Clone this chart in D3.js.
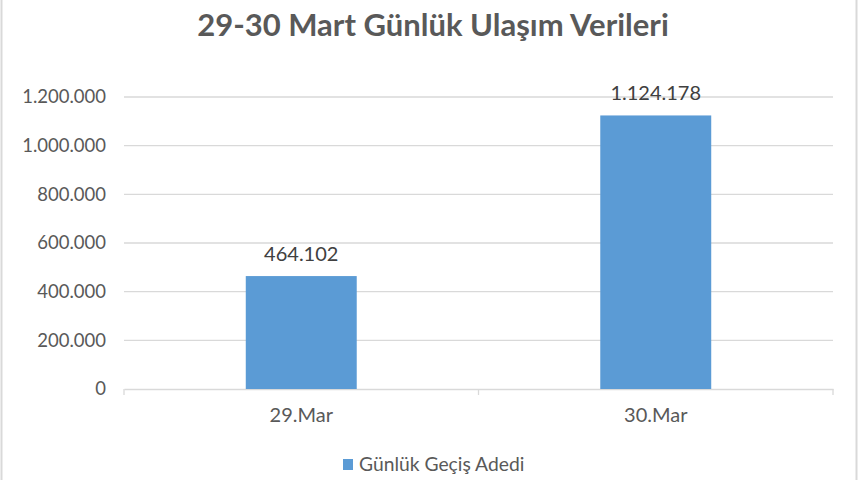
<!DOCTYPE html>
<html><head><meta charset="utf-8">
<script src="https://cdn.jsdelivr.net/npm/d3@7"></script>
<style>body{margin:0;background:#fff}svg{display:block}</style>
</head><body>
<svg id="c" width="860" height="480"></svg>
<script>
const categories = ["29.Mar", "30.Mar"];
const values = [464102, 1124178];
const yTicks = [0, 200000, 400000, 600000, 800000, 1000000, 1200000];
const seriesName = "Günlük Geçiş Adedi";
const title = "29-30 Mart Günlük Ulaşım Verileri";

const fmt = v => d3.format(",")(v).replace(/,/g, ".");
const svg = d3.select("#c");
const font = "Lato, 'Open Sans', sans-serif";

svg.append("rect").attr("x",1.5).attr("y",-2).attr("width",855).attr("height",490)
  .attr("fill","#fff").attr("stroke","#d9d9d9").attr("stroke-width",2);

const m = {l:124, r:833, t:97, b:389};
const x = d3.scaleBand().domain(categories).range([m.l, m.r]).paddingInner(0.687).paddingOuter(0.3435);
const y = d3.scaleLinear().domain([0, 1200000]).range([m.b, m.t]);

svg.append("text").attr("x",433).attr("y",36).attr("text-anchor","middle")
  .attr("font-family",font).attr("font-weight","bold").attr("font-size",31).attr("fill","#595959").text(title);

svg.append("g").selectAll("line").data(yTicks.filter(d=>d>0)).join("line")
  .attr("x1",m.l).attr("x2",m.r).attr("y1",d=>y(d)).attr("y2",d=>y(d))
  .attr("stroke","#d9d9d9").attr("stroke-width",1.3);

const yAxis = svg.append("g").attr("transform",`translate(${m.l},0)`)
  .call(d3.axisLeft(y).tickValues(yTicks).tickFormat(fmt).tickSize(0).tickPadding(18));
yAxis.select(".domain").remove();
yAxis.selectAll("text").attr("font-family",font).attr("font-size",18.5).attr("fill","#595959");

const band = d3.scaleBand().domain(categories).range([m.l, m.r]);
const xAxis = svg.append("g").attr("transform",`translate(0,${m.b})`)
  .call(d3.axisBottom(band).tickSize(0).tickPadding(19));
xAxis.select(".domain").attr("stroke","#d9d9d9").attr("stroke-width",1.3);
xAxis.selectAll("text").attr("font-family",font).attr("font-size",20).attr("fill","#595959");
const bounds = [m.l, ...categories.slice(1).map(c=>band(c)), m.r];
svg.append("g").selectAll("line").data(bounds).join("line")
  .attr("x1",d=>d).attr("x2",d=>d).attr("y1",m.b).attr("y2",m.b+6)
  .attr("stroke","#d9d9d9").attr("stroke-width",1.3);

svg.append("g").selectAll("rect").data(values).join("rect")
  .attr("x",(d,i)=>x(categories[i])).attr("width",x.bandwidth())
  .attr("y",d=>y(d)).attr("height",d=>y(0)-y(d)).attr("fill","#5b9bd5");

svg.append("g").selectAll("text").data(values).join("text")
  .attr("x",(d,i)=>x(categories[i])+x.bandwidth()/2).attr("y",d=>y(d)-15)
  .attr("text-anchor","middle").attr("font-family",font).attr("font-size",20).attr("fill","#404040").text(fmt);

const lg = svg.append("g");
lg.append("rect").attr("x",343).attr("y",459).attr("width",10).attr("height",11).attr("fill","#5b9bd5");
lg.append("text").attr("x",359).attr("y",471).attr("font-family",font).attr("font-size",19.3).attr("fill","#595959").text(seriesName);
</script>
</body></html>
